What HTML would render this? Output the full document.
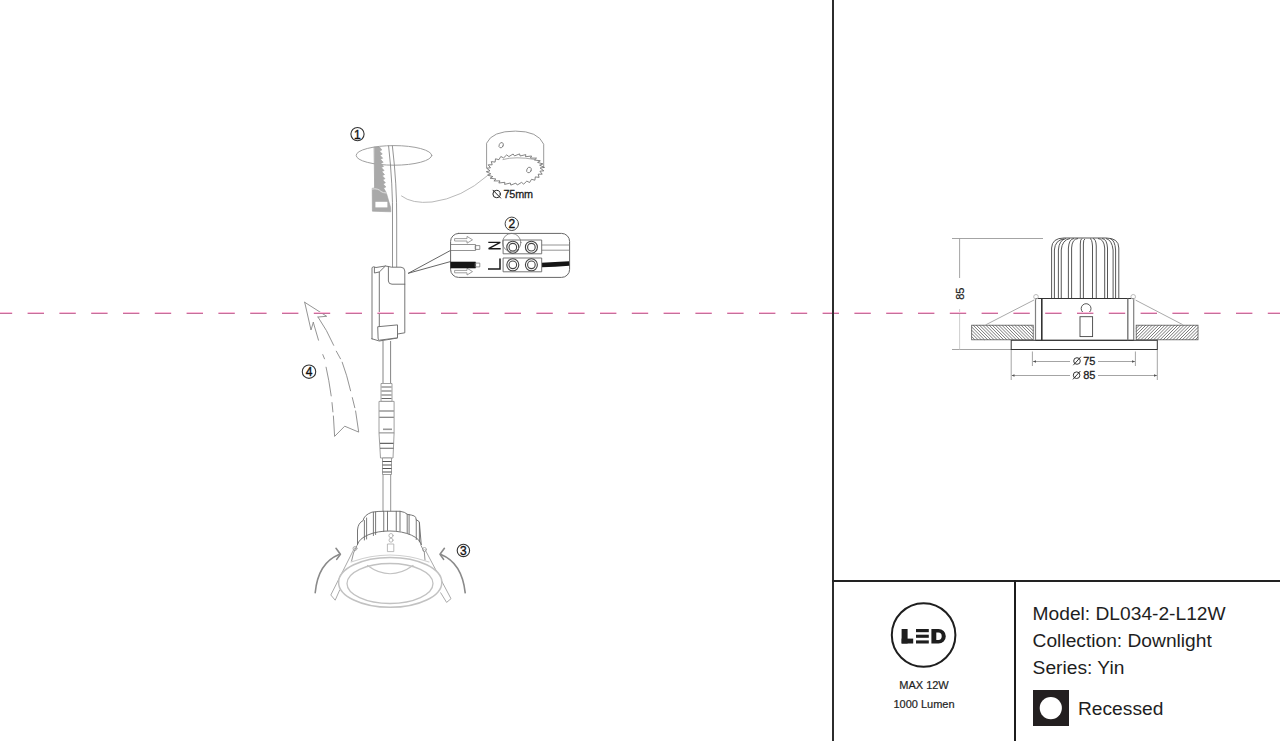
<!DOCTYPE html>
<html><head><meta charset="utf-8">
<style>
html,body{margin:0;padding:0;background:#fff;}
body{width:1280px;height:741px;overflow:hidden;position:relative;font-family:"Liberation Sans",sans-serif;}
svg{position:absolute;left:0;top:0;}
</style></head>
<body>
<svg width="1280" height="741" viewBox="0 0 1280 741" font-family="Liberation Sans, sans-serif">

<!-- LED logo -->
<circle cx="923.6" cy="635" r="31.8" fill="none" stroke="#1e1e1e" stroke-width="2"/>
<g fill="#1e1e1e">
<rect x="901.6" y="629" width="6" height="14.5"/>
<rect x="901.6" y="638.6" width="11.6" height="4.9"/>
<rect x="916" y="629" width="12.8" height="3.2"/>
<rect x="916" y="634.7" width="12.8" height="3.1"/>
<rect x="916" y="640.4" width="12.8" height="3.1"/>
<path d="M931.4 629H938.5A7.3 7.25 0 0 1 945.8 636.25A7.3 7.25 0 0 1 938.5 643.5H931.4ZM936.3 632.6V639.9H938.3A3.4 3.65 0 0 0 941.7 636.25A3.4 3.65 0 0 0 938.3 632.6Z" fill-rule="evenodd"/>
</g>
<text x="924" y="689" font-size="11" text-anchor="middle" fill="#1e1e1e" stroke="#1e1e1e" stroke-width="0.2">MAX 12W</text>
<text x="924" y="707.5" font-size="11" text-anchor="middle" fill="#1e1e1e" stroke="#1e1e1e" stroke-width="0.2">1000 Lumen</text>

<!-- info text -->
<g font-size="19.2" fill="#1e1e1e">
<text x="1032.6" y="620">Model: DL034-2-L12W</text>
<text x="1032.6" y="647.1">Collection: Downlight</text>
<text x="1032.6" y="674.1">Series: Yin</text>
<text x="1078" y="714.6">Recessed</text>
</g>
<rect x="1033" y="690" width="36" height="36" fill="#231f20"/>
<circle cx="1050.8" cy="708.1" r="11.1" fill="#fff"/>

<!-- left installation drawing -->
<g fill="none" stroke-linejoin="round" stroke-linecap="round">
<!-- step 1 -->
<circle cx="357.5" cy="134.1" r="6.6" stroke="#333" stroke-width="1.1"/>
<ellipse cx="394" cy="155.4" rx="37.8" ry="9.8" stroke="#a0a0a0" stroke-width="1"/>
<!-- cable top -->
<path d="M388.6 146Q393 185 392.5 220V267M392.4 146Q397 185 396.7 220V267" stroke="#888" stroke-width="0.9"/>
<!-- saw -->
<path d="M374.3 147L379.5 147L381.8 150.0L379.5 151.1L382.3 154.1L380.0 155.2L382.7 158.2L380.4 159.3L383.2 162.3L380.9 163.4L383.6 166.4L381.3 167.5L384.1 170.5L381.8 171.6L384.5 174.6L382.2 175.7L385.0 178.7L382.7 179.8L385.4 182.8L383.1 183.9L385.9 186.9L383.6 188.0L386.2 192.5L390.6 207.5L390.8 211.8L372.4 211.2L372.2 188.3L374.3 188Z" fill="#a9a9a9" stroke="#a0a0a0" stroke-width="0.6"/>
<path d="M372.5 189Q378 188 381 191.5Q383 193 386.5 193" stroke="#eee" stroke-width="0.8"/>
<rect x="375.4" y="201.8" width="12" height="5.6" fill="#fff" stroke="none"/>
<!-- link curve -->
<path d="M401.5 196Q412 204 432 202Q462 198 487 176" stroke="#b0b0b0" stroke-width="0.9"/>
<!-- hole saw -->
<path d="M486.6 167.5V143.2Q492 131 515.4 131.1Q538 131 543.7 144.2V167.5" stroke="#9a9a9a" stroke-width="1"/>
<path d="M540.4 168.2 L543.8 170.8 L539.9 171.2 L542.2 174.2 L538.2 174.2 L539.1 177.4 L535.3 176.9 L534.9 180.2 L531.5 179.3 L529.6 182.5 L526.8 181.1 L523.7 184.1 L521.5 182.4 L517.3 185.0 L515.9 183.1 L510.8 185.1 L510.3 183.0 L504.6 184.4 L504.9 182.3 L498.8 183.0 L500.0 180.9 L493.9 180.9 L495.9 179.0 L490.1 178.2 L492.8 176.6 L487.5 175.1 L490.8 173.8 L486.3 171.7 L490.0 170.8 L486.6 168.2 L490.5 167.8 L488.2 164.8 L492.2 164.8 L491.3 161.6 L495.1 162.1 L495.5 158.8 L498.9 159.7 L500.8 156.5 L503.6 157.9 L506.7 154.9 L508.9 156.6 L513.1 154.0 L514.5 155.9 L519.6 153.9 L520.1 156.0 L525.8 154.6 L525.5 156.7 L531.6 156.0 L530.4 158.1 L536.5 158.1 L534.5 160.0 L540.3 160.8 L537.6 162.4 L542.9 163.9 L539.6 165.2 L544.1 167.3Z" stroke="#666" stroke-width="0.8" fill="#fff"/>
<path d="M503 159.5Q515 156 535 159.5" stroke="#888" stroke-width="0.7"/>
<ellipse cx="501.2" cy="145.2" rx="2" ry="2.8" transform="rotate(25 501.2 145.2)" stroke="#777" stroke-width="0.8"/>
<ellipse cx="529" cy="170" rx="2.2" ry="2.9" transform="rotate(25 529 170)" stroke="#777" stroke-width="0.8"/>
<circle cx="496.6" cy="194" r="3.7" stroke="#222" stroke-width="1"/>
<path d="M493 190.2L500.6 198" stroke="#222" stroke-width="1"/>
</g>
<g font-size="10.5" fill="#222">
<text x="503.4" y="198.2" font-size="10.8" textLength="29.6" stroke="#222" stroke-width="0.3">75mm</text>

</g>

<!-- step 2 terminal -->
<g fill="none" stroke-linejoin="round" stroke-linecap="round">
<circle cx="511.8" cy="223.8" r="6.7" stroke="#444" stroke-width="1"/>
<rect x="450.6" y="233.4" width="119" height="44" rx="8" stroke="#666" stroke-width="1"/>
<path d="M408.5 273.2L450.4 250.5M408.5 273.2L450.4 261.6" stroke="#555" stroke-width="0.9"/>
<!-- arrows -->
<path d="M455 238.6H467V236.4L472.5 239.8L467 243.2V241H455Z" stroke="#888" stroke-width="0.8"/>
<path d="M455 270.4H467V268.2L472.5 271.6L467 275V272.8H455Z" stroke="#888" stroke-width="0.8"/>
<!-- wires left -->
<rect x="451" y="244.5" width="24.6" height="6" stroke="#777" stroke-width="0.8" fill="#fff"/>
<rect x="475.6" y="245.6" width="4.2" height="3.8" stroke="#777" stroke-width="0.8"/>
<rect x="451" y="262" width="24.6" height="6" fill="#151515" stroke="#151515" stroke-width="0.6"/>
<rect x="475.6" y="263.1" width="4.2" height="3.8" stroke="#777" stroke-width="0.8"/>
<!-- right wires -->
<path d="M541.7 245H569M541.7 250.2H569" stroke="#888" stroke-width="0.9"/>
<path d="M541.7 265Q555 264.5 569.2 263.5" stroke="#151515" stroke-width="4.6" stroke-linecap="butt"/>
<!-- blocks -->
<rect x="503.5" y="240" width="38.2" height="13.8" stroke="#666" stroke-width="0.9" fill="#fff"/>
<rect x="503.5" y="258" width="38.2" height="13.8" stroke="#666" stroke-width="0.9" fill="#fff"/>
<g stroke="#444" stroke-width="1.1">
<circle cx="512.8" cy="247.2" r="6"/><circle cx="512.8" cy="247.2" r="3.8"/>
<circle cx="531.4" cy="247.2" r="6"/><circle cx="531.4" cy="247.2" r="3.8"/>
<circle cx="512.8" cy="264.8" r="6"/><circle cx="512.8" cy="264.8" r="3.8"/>
<circle cx="531.4" cy="264.8" r="6"/><circle cx="531.4" cy="264.8" r="3.8"/>
</g>
<circle cx="511.7" cy="242.6" r="9.2" stroke="#777" stroke-width="0.8"/>
<!-- N and L rotated -->
<path d="M488.3 242.4H500.3L488.6 248.7H500.7" stroke="#1a1a1a" stroke-width="1.4" stroke-linecap="butt" stroke-linejoin="miter"/>
<path d="M488 269H500V258.5" stroke="#1a1a1a" stroke-width="1.5" stroke-linecap="butt" stroke-linejoin="miter"/>
</g>


<!-- driver -->
<g fill="#fff" stroke="#666" stroke-width="0.9" stroke-linejoin="round" stroke-linecap="round">
<path d="M372 338.8V268Q372.3 266.8 373.5 266.8L376 267.5L385.4 266L388.4 266.5L391.5 267.2H401Q404.8 267.5 404.8 271V332.8L397.5 334V338L379.3 341L372 338.8Z"/>
<path d="M374.4 267.3V273L379.3 272L385.4 266M379.3 272V326.7M388.4 266.5V281Q388.6 284.2 392 284.2H404.8" fill="none"/>
<path d="M378.1 326.7L397.5 324.9V337.8L379.3 340.2Q378.1 340 378.1 338.5Z"/>
</g>
<path d="M383 341V383M390.6 341V383" fill="none" stroke="#777" stroke-width="0.9"/>
<!-- connector -->
<g fill="#fff" stroke="#888" stroke-width="0.8">
<path d="M381 383.5H392V401.4H381Z"/>
<path d="M381.5 387H391.5M381.5 391H391.5M381.5 395H391.5M381.5 398.5H391.5" fill="none" stroke="#666" stroke-width="1"/>
<path d="M379 401.4H394.1V433H379Z"/>
<path d="M379.3 411H393.8M379.3 417.3H393.8" fill="none" stroke="#666" stroke-width="1.1"/>
<path d="M383 429.3H392" fill="none" stroke="#999" stroke-width="1.6"/>
<path d="M379 433H394.1L393 458H380.5Z"/>
<path d="M380 443.4H393.5M380 448.2H393.5" fill="none" stroke="#666" stroke-width="1.1"/>
<path d="M382.5 458H391.5V474.5H382.5Z"/>
<path d="M382.5 461.5H391.5M382.5 465H391.5M382.5 468.5H391.5M382.5 472H391.5" fill="none" stroke="#555" stroke-width="1.2"/>
<path d="M383 474.5V512M390.7 474.5V512" fill="none" stroke="#777"/>
</g>

<!-- downlight -->
<g fill="none" stroke-linejoin="round" stroke-linecap="round">
<!-- spring clips -->
<path d="M354.5 548L330.8 595L335.2 600.2L339.7 590M425 549.5L451 598.7L446.6 602.4L440.7 592.8" stroke="#aaa" stroke-width="1"/>
<circle cx="355" cy="548.5" r="2" stroke="#aaa" stroke-width="0.9"/><circle cx="424.5" cy="549.5" r="2" stroke="#aaa" stroke-width="0.9"/>
<!-- bezel -->
<ellipse cx="390.2" cy="582.4" rx="51.6" ry="24.9" stroke="#c2c2c2" stroke-width="1.5" fill="#fff"/>
<ellipse cx="390" cy="583.5" rx="43" ry="20" stroke="#c2c2c2" stroke-width="1.3"/>
<path d="M367.5 565.5Q390 582 413 565.5" stroke="#c2c2c2" stroke-width="1.2"/>
<!-- body -->
<path d="M357 545.5L353.5 553L351.6 561M421 545.5L424.3 552L425 560" stroke="#888" stroke-width="0.9"/>
<path d="M351 562Q390 548 429 562" stroke="#d0d0d0" stroke-width="1.2"/>
<!-- heatsink -->
<path d="M357.5 544.4V530Q358 523 363.1 520.6Q364 515 371.9 512.2Q378 511.2 384.4 511.25H400Q405 511.9 407.5 514.4Q412 515 414.4 516Q416 517 416.3 520Q419 520.5 419.4 522.5L421.25 545A32 15 0 0 0 357.5 544.4Z" stroke="#666" stroke-width="0.9" fill="#fff"/>
<path d="M364.4 520.5V540M366.6 518V539M373.4 512.2V535.5M375.6 512V534.5M383.75 511.3V531.5M387.5 511.3V530.5M396.25 511.3V530.5M400 511.3V531M407.2 514.3V533M409.1 514.7V534M416.25 520V539.5M419.4 522.5V542" stroke="#6a6a6a" stroke-width="0.9"/>
<circle cx="391" cy="535.6" r="2.1" stroke="#aaa" stroke-width="0.8"/>
<circle cx="391" cy="540.2" r="2" stroke="#aaa" stroke-width="0.8"/>
<rect x="387.8" y="544" width="6" height="7.6" stroke="#aaa" stroke-width="0.8"/>
<!-- rotation arrows -->
<path d="M315.2 592.8Q318 563 339 554.5M315.2 592.8" stroke="#8a8a8a" stroke-width="1.6"/>
<path d="M336 548.3L340.4 554.2L336.7 559.4" stroke="#8a8a8a" stroke-width="1.6"/>
<path d="M465.2 592.8Q462 563 441 554.5" stroke="#8a8a8a" stroke-width="1.6"/>
<path d="M444.4 548.3L440 554.2L443.6 559.4" stroke="#8a8a8a" stroke-width="1.6"/>
<circle cx="463.4" cy="550.4" r="6.2" stroke="#333" stroke-width="1.1"/>
<!-- arrow 4 -->
<path d="M304.7 302.3L326.7 316.3L318 317" stroke="#888" stroke-width="0.9"/>
<path d="M304.7 302.3L311 330L313.3 322.4" stroke="#888" stroke-width="0.9"/>
<path d="M318 317Q327 330 333.7 345.3M336.3 351.2L340.5 358.8M342.2 362.2Q347 375 350.6 390.8M352.3 397.6L354.8 407.7M355.6 411L358.7 432.1L344.7 426.2L334.6 436.4L333.4 416M332.9 411.9L332 402.6M331.2 395.9Q329 380 326.1 367.2M324.5 358.8L322.8 354.6M318.5 340.2L313.3 322.4" stroke="#888" stroke-width="0.9"/>
<circle cx="309" cy="371.7" r="6.7" stroke="#333" stroke-width="1.1"/>
</g>
<g font-size="12" fill="#111" stroke="#111" stroke-width="0.35" text-anchor="middle">
<text x="357.4" y="138.6">1</text>
<text x="511.8" y="228.4">2</text>
<text x="463.4" y="554.8">3</text>
<text x="309" y="376.2">4</text>
</g>

<!-- right technical drawing -->
<g fill="none" stroke-linecap="butt">
<!-- dimension lines -->
<g stroke="#9a9a9a" stroke-width="0.9">
<path d="M952 238.5H1043M959.6 238.5V278M952 349.5H1011.2"/>
<path d="M959.6 309V349.5" stroke="#c8c8c8"/>
<path d="M1011.2 350V380M1157.3 350V380M1032.4 351.5V366M1135.4 351.5V366"/>
<path d="M1033 361.5H1070M1098 361.5H1135M1012 375.5H1070M1098 375.5H1157"/>
</g>
<g fill="#555" stroke="none">
<path d="M1033 361.5l3 -1.3v2.6z M1135 361.5l-3 -1.3v2.6z M1011.5 375.5l3 -1.3v2.6z M1157 375.5l-3 -1.3v2.6z"/>
</g>
<!-- heatsink -->
<g stroke="#444" stroke-width="0.9">
<path d="M1051.6 298V248Q1052 238 1064 238H1106Q1118.8 238 1118.8 248V298"/>
<path d="M1054.4 298V250Q1055 240 1064 239M1058.4 298V250Q1059 240 1066 238.5M1061.25 298V250Q1062 240 1070 238.5M1068.4 298V248Q1069 239 1074 238.5M1071.6 298V248Q1072 239 1078 238.5M1080.3 298V244Q1080.3 239 1082 238.5M1083.4 298V244Q1083.4 239 1085 239M1092.5 298V246Q1092 239 1090 238.5M1096.25 298V246Q1096 239 1093 238.5M1104.7 298V248Q1104 239 1098 238.5M1107.5 298V248Q1107 239 1102 238.5M1113.1 298V250Q1112 240 1106 238.5M1115.6 298V250Q1115 240 1110 238.5"/>
</g>
<!-- body -->
<g stroke="#333" stroke-width="1">
<path d="M1035.5 298.5H1133.7M1035.5 340.3H1133.7"/>
<path d="M1035.5 298.5V340.3M1133.7 298.5V340.3" stroke="#808080" stroke-width="1.2"/>
<rect x="1011.2" y="340.3" width="146.1" height="9.2"/>
</g>
<path d="M1041.8 298.5V340.3" stroke="#333" stroke-width="1.6"/><path d="M1127.8 298.5V340.3" stroke="#777" stroke-width="1.4"/>
<circle cx="1086.1" cy="308.6" r="4.9" stroke="#444" stroke-width="0.9"/>
<path d="M1077 313.3H1093" stroke="#444" stroke-width="0.9"/>
<rect x="1080" y="316.7" width="12.6" height="19.9" stroke="#444" stroke-width="0.9"/>
<!-- ceiling -->
<rect x="971.7" y="325.2" width="61.5" height="14.6" stroke="#555" stroke-width="0.8"/>
<rect x="1136.2" y="325.2" width="61.8" height="14.6" stroke="#555" stroke-width="0.8"/>
<path d="M971.7 336.6L974.9 339.8M971.7 333.4L978.1 339.8M971.7 330.2L981.3 339.8M971.7 327.0L984.5 339.8M973.1 325.2L987.7 339.8M976.3 325.2L990.9 339.8M979.5 325.2L994.1 339.8M982.7 325.2L997.3 339.8M985.9 325.2L1000.5 339.8M989.1 325.2L1003.7 339.8M992.3 325.2L1006.9 339.8M995.5 325.2L1010.1 339.8M998.7 325.2L1013.3 339.8M1001.9 325.2L1016.5 339.8M1005.1 325.2L1019.7 339.8M1008.3 325.2L1022.9 339.8M1011.5 325.2L1026.1 339.8M1014.7 325.2L1029.3 339.8M1017.9 325.2L1032.5 339.8M1021.1 325.2L1033.2 337.3M1024.3 325.2L1033.2 334.1M1027.5 325.2L1033.2 330.9M1030.7 325.2L1033.2 327.7M1136.2 328.4L1139.4 325.2M1136.2 331.6L1142.6 325.2M1136.2 334.8L1145.8 325.2M1136.2 338.0L1149.0 325.2M1137.6 339.8L1152.2 325.2M1140.8 339.8L1155.4 325.2M1144.0 339.8L1158.6 325.2M1147.2 339.8L1161.8 325.2M1150.4 339.8L1165.0 325.2M1153.6 339.8L1168.2 325.2M1156.8 339.8L1171.4 325.2M1160.0 339.8L1174.6 325.2M1163.2 339.8L1177.8 325.2M1166.4 339.8L1181.0 325.2M1169.6 339.8L1184.2 325.2M1172.8 339.8L1187.4 325.2M1176.0 339.8L1190.6 325.2M1179.2 339.8L1193.8 325.2M1182.4 339.8L1197.0 325.2M1185.6 339.8L1198.0 327.4M1188.8 339.8L1198.0 330.6M1192.0 339.8L1198.0 333.8M1195.2 339.8L1198.0 337.0" stroke="#4a4a4a" stroke-width="0.75"/>
<!-- springs -->
<g stroke="#aaa" stroke-width="1">
<path d="M1034 300L985.4 325M1135.6 300.1L1182.8 324.7"/>
<circle cx="1036" cy="296.8" r="2.3" stroke="#bbb"/>
<circle cx="1133.2" cy="296.8" r="2.3" stroke="#bbb"/>
</g>
</g>
<g fill="none" stroke="#222" stroke-width="0.9">
<circle cx="1077" cy="361" r="3.3"/><path d="M1073.3 365.2L1080.8 356.8"/>
<circle cx="1076.6" cy="375.2" r="3.3"/><path d="M1072.9 379.4L1080.4 371"/>
</g>
<g font-size="11" fill="#222">
<text x="1083.2" y="364.9" stroke="#222" stroke-width="0.3">75</text>
<text x="1083.2" y="379" stroke="#222" stroke-width="0.3">85</text>
<text transform="translate(963.6 293.7) rotate(-90)" text-anchor="middle" stroke="#222" stroke-width="0.25">85</text>
</g>

<!-- dashed magenta line -->
<line x1="0" y1="312.5" x2="1280" y2="312.5" stroke="#ffbcdc" stroke-width="1" stroke-dasharray="16.4 15.4" stroke-dashoffset="4.2"/>
<line x1="0" y1="313.5" x2="1280" y2="313.5" stroke="#c4709a" stroke-width="1" stroke-dasharray="16.4 15.4" stroke-dashoffset="4.2"/>
<!-- frame lines -->
<rect x="832" y="0" width="2" height="741" fill="#2c2c2c"/>
<rect x="832" y="580" width="448" height="2" fill="#222"/>
<rect x="1014" y="580" width="2" height="161" fill="#1c1c1c"/>
</svg>
</body></html>
